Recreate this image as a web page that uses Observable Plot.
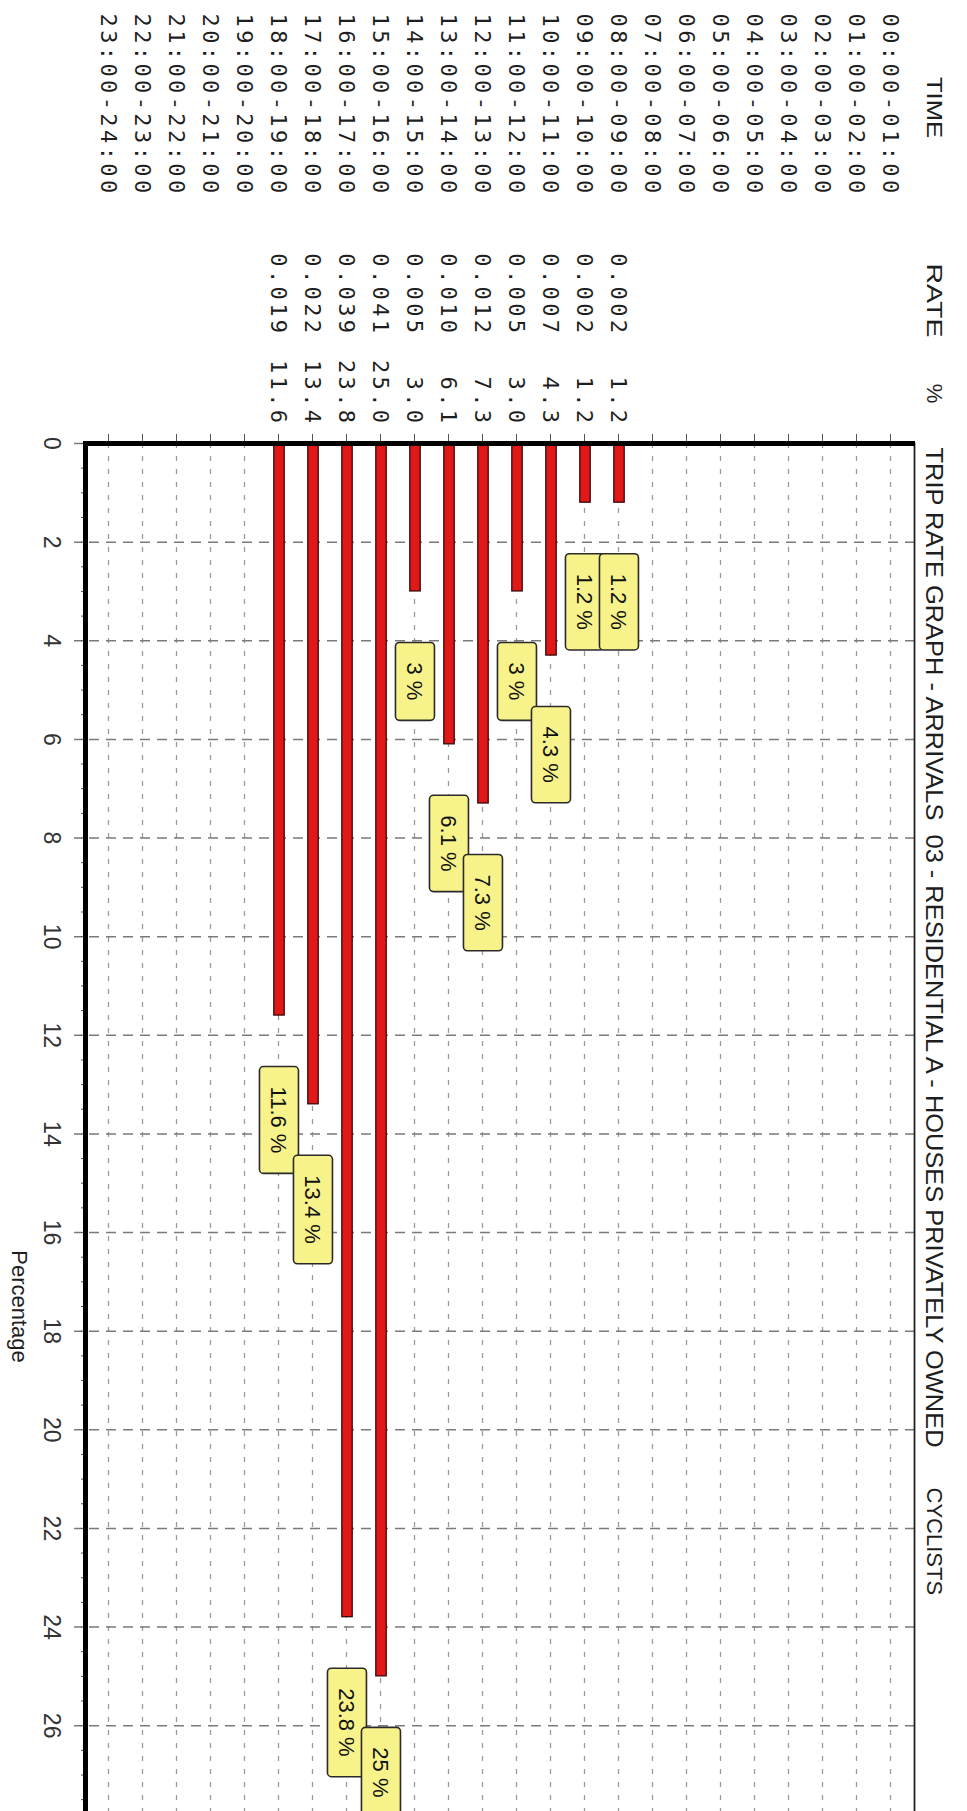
<!DOCTYPE html>
<html>
<head>
<meta charset="utf-8">
<script src="https://cdn.jsdelivr.net/npm/d3@7"></script>
<script src="https://cdn.jsdelivr.net/npm/@observablehq/plot@0.6"></script>
<style>
html, body { margin: 0; padding: 0; background: #fff; width: 967px; height: 1811px; overflow: hidden; }
#page {
  position: absolute; left: 0; top: 0;
  width: 1811px; height: 967px; overflow: hidden; background: #fff;
  transform-origin: 0 0;
  transform: translate(967px, 0) rotate(90deg);
}
#page svg text { white-space: pre; }
</style>
</head>
<body>
<div id="page"></div>
<script>
// ---- data ----
const times = [
  "00:00-01:00","01:00-02:00","02:00-03:00","03:00-04:00","04:00-05:00","05:00-06:00",
  "06:00-07:00","07:00-08:00","08:00-09:00","09:00-10:00","10:00-11:00","11:00-12:00",
  "12:00-13:00","13:00-14:00","14:00-15:00","15:00-16:00","16:00-17:00","17:00-18:00",
  "18:00-19:00","19:00-20:00","20:00-21:00","21:00-22:00","22:00-23:00","23:00-24:00"
];
const rowTimes = [
  "08:00-09:00","09:00-10:00","10:00-11:00","11:00-12:00","12:00-13:00","13:00-14:00",
  "14:00-15:00","15:00-16:00","16:00-17:00","17:00-18:00","18:00-19:00"
];
const rates    = [0.002, 0.002, 0.007, 0.005, 0.012, 0.010, 0.005, 0.041, 0.039, 0.022, 0.019];
const percents = [1.2, 1.2, 4.3, 3.0, 7.3, 6.1, 3.0, 25.0, 23.8, 13.4, 11.6];
const xTicks = [0, 2, 4, 6, 8, 10, 12, 14, 16, 18, 20, 22, 24, 26];
const headerTime = "TIME";
const headerRate = "RATE";
const headerPct = "%";
const title = "TRIP RATE GRAPH - ARRIVALS  03 - RESIDENTIAL A - HOUSES PRIVATELY OWNED";
const subject = "CYCLISTS";
const xLabel = "Percentage";

const rows = rowTimes.map((t, i) => ({time: t, rate: rates[i], pct: percents[i]}));
const rowsRev = rows.slice().reverse();

const SANS = "'Liberation Sans', Arial, sans-serif";
const MONO = "'DejaVu Sans Mono', monospace";
const INK = "#1e1e1e";

const plot = Plot.plot({
  width: 2169,
  height: 967,
  marginLeft: 443,
  marginRight: 0,
  marginTop: 52,
  marginBottom: 86,
  style: {maxWidth: "none", background: "#fff", fontFamily: SANS, fontSize: "23px", color: INK, overflow: "visible"},
  x: {domain: [0, 35]},
  y: {domain: times, padding: 0},
  marks: [
    // row gridlines
    Plot.ruleY(times, {y: d => d, stroke: "#9a9a9a", strokeWidth: 1.3, strokeDasharray: "5,8"}),
    // percentage gridlines
    Plot.ruleX(xTicks, {x: d => d, stroke: "#7a7a7a", strokeWidth: 1.5, strokeDasharray: "10,7", insetBottom: -12}),
    // minor ticks on percentage axis
    Plot.axisX({anchor: "bottom", ticks: d3.range(0, 28, 0.5), tickSize: 5, fill: "none", label: null, stroke: "#555"}),
    // ticks on time axis
    Plot.axisY({anchor: "left", tickSize: 9, fill: "none", label: null, stroke: "#555"}),
    // tick labels
    Plot.axisX({anchor: "bottom", ticks: xTicks, tickSize: 0, tickPadding: 25, label: null, fill: "#333", fontSize: 23}),
    // bars
    Plot.barX(rows, {x: "pct", y: "time", fill: "#e01818", stroke: "#3a0808", strokeWidth: 1.3, insetTop: 11.8, insetBottom: 11.8}),
    // frame and thick axes
    Plot.frame({stroke: "#222", strokeWidth: 1.8}),
    Plot.ruleX([0], {stroke: "#000", strokeWidth: 5}),
    Plot.frame({anchor: "bottom", stroke: "#000", strokeWidth: 5}),
    // left table
    Plot.text(times, {y: d => d, text: d => d, frameAnchor: "left", dx: -430, textAnchor: "start",
      fontFamily: MONO, fontSize: 22, fill: INK}),
    Plot.text(rows, {y: "time", text: d => d.rate.toFixed(3), frameAnchor: "left", dx: -107, textAnchor: "end",
      fontFamily: MONO, fontSize: 22, fill: INK}),
    Plot.text(rows, {y: "time", text: d => d.pct.toFixed(1), frameAnchor: "left", dx: -17, textAnchor: "end",
      fontFamily: MONO, fontSize: 22, fill: INK}),
    // headers
    Plot.text([headerTime], {frameAnchor: "top-left", dx: -336, dy: -28, textAnchor: "middle", fontSize: 22, fill: INK}),
    Plot.text([headerRate], {frameAnchor: "top-left", dx: -143, dy: -28, textAnchor: "middle", fontSize: 22, fill: INK}),
    Plot.text([headerPct], {frameAnchor: "top-left", dx: -50, dy: -28, textAnchor: "middle", fontSize: 22, fill: INK}),
    Plot.text([title], {frameAnchor: "top-left", dx: 4, dy: -28, textAnchor: "start", fontSize: 23, fill: INK}),
    Plot.text([subject], {frameAnchor: "top-left", dx: 1044, dy: -28, textAnchor: "start", fontSize: 22, fill: INK}),
    // axis label
    Plot.text([xLabel], {frameAnchor: "bottom", dy: 74, textAnchor: "middle", fontSize: 22, fill: INK}),
    // value callouts
    Plot.text(rowsRev, {x: "pct", y: "time", text: d => `${d.pct} %`, dx: 71, textAnchor: "start",
      fontSize: 22, fill: "#111"})
  ]
});

document.getElementById("page").appendChild(plot);

// post-styling of texts (spacing, stretched headers, callout boxes)
const NS = "http://www.w3.org/2000/svg";
plot.querySelectorAll("text").forEach(t => {
  const s = t.textContent;
  if (/^\d\d:\d\d-\d\d:\d\d$/.test(s) || /^\d+\.\d+$/.test(s)) {
    t.setAttribute("letter-spacing", "3.4");
  } else if (s === title) {
    t.setAttribute("textLength", 1000);
    t.setAttribute("lengthAdjust", "spacingAndGlyphs");
  } else if (s === headerTime) {
    t.setAttribute("textLength", 61);
    t.setAttribute("lengthAdjust", "spacingAndGlyphs");
  } else if (s === headerRate) {
    t.setAttribute("textLength", 74);
    t.setAttribute("lengthAdjust", "spacingAndGlyphs");
  } else if (s.length > 1 && / %$/.test(s)) {
    const b = t.getBBox();
    const r = document.createElementNS(NS, "rect");
    r.setAttribute("x", b.x - 20);
    r.setAttribute("y", b.y - 7);
    r.setAttribute("width", b.width + 40);
    r.setAttribute("height", b.height + 14);
    r.setAttribute("rx", 4);
    r.setAttribute("fill", "#f7f38a");
    r.setAttribute("stroke", "#2a2a2a");
    r.setAttribute("stroke-width", 1.6);
    const tr = t.getAttribute("transform");
    if (tr) r.setAttribute("transform", tr);
    t.parentNode.insertBefore(r, t);
  }
});
</script>
</body>
</html>
